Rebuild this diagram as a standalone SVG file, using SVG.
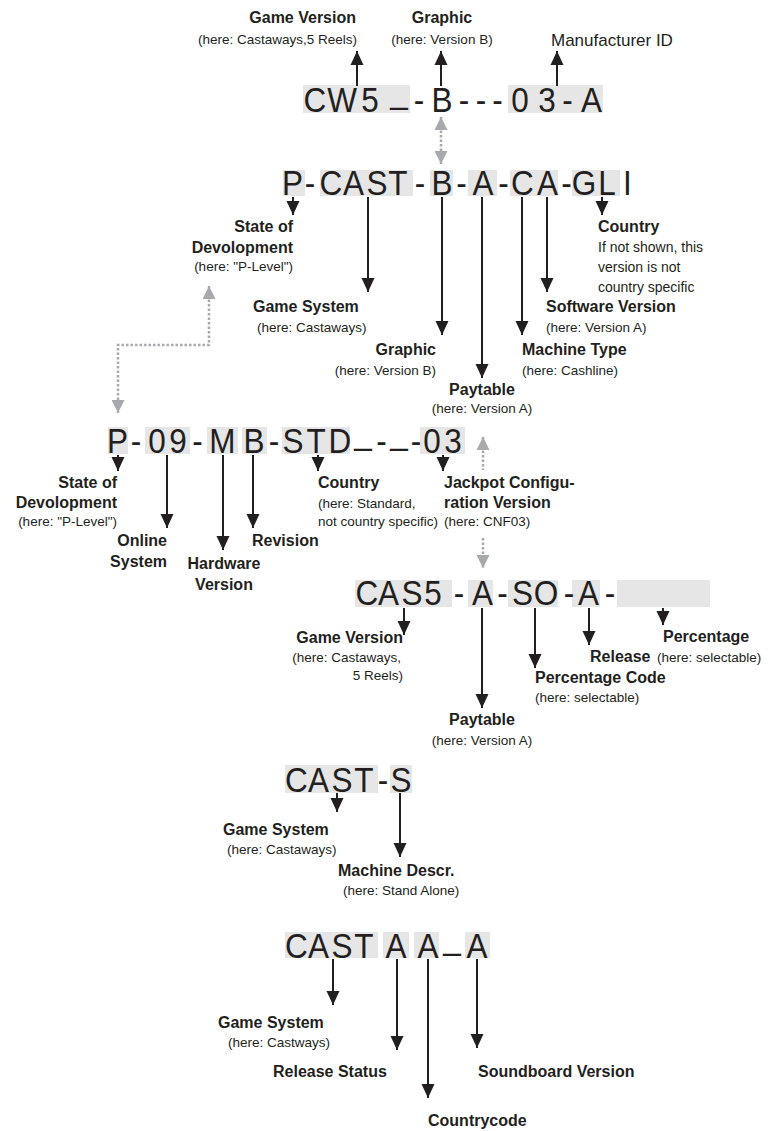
<svg xmlns="http://www.w3.org/2000/svg" width="770" height="1131" viewBox="0 0 770 1131">
<style>
.code{font-family:"Liberation Sans",Arial,sans-serif;font-size:35px;fill:#231f20;text-anchor:middle}
.b{font-family:"Liberation Sans",Arial,sans-serif;font-size:16px;font-weight:bold;fill:#231f20}
.r{font-family:"Liberation Sans",Arial,sans-serif;font-size:13.5px;fill:#231f20}
.m{text-anchor:middle}
.e{text-anchor:end}
.hl{fill:#e6e6e6}
.arr{stroke:#231f20;stroke-width:2;fill:none;marker-end:url(#ah)}
.dot{stroke:#a7a9ac;stroke-width:2.5;stroke-dasharray:2.5 2;fill:none}
</style>
<defs>
<marker id="ah" viewBox="0 0 14 14" refX="14" refY="7" markerWidth="14" markerHeight="14" markerUnits="userSpaceOnUse" orient="auto"><path d="M0,0.5 L14,7 L0,13.5 z" fill="#231f20"/></marker>
<marker id="gh" viewBox="0 0 13 13" refX="13" refY="6.5" markerWidth="13" markerHeight="13" markerUnits="userSpaceOnUse" orient="auto-start-reverse"><path d="M0,0 L13,6.5 L0,13 z" fill="#a7a9ac"/></marker>
</defs>
<rect width="770" height="1131" fill="#ffffff"/>

<g id="code1">
<rect class="hl" x="303" y="85" width="107" height="28"/>
<rect class="hl" x="508" y="85" width="95" height="28"/>
<text class="code" transform="scale(0.9,1)" x="350 380 411.11 443.33 465.56 491.11 515.56 534.44 552.78 577.78 607.78 630.56 657.22" y="112 112 112 103 112">CW5_-B---03-A</text>
</g>
<g id="lbl1-game-version">
<text class="b e" x="356" y="23">Game Version</text>
<text class="r e" x="357" y="44">(here: Castaways,5 Reels)</text>
</g>
<g id="lbl1-graphic">
<text class="b m" x="442" y="23">Graphic</text>
<text class="r m" x="442" y="44">(here: Version B)</text>
</g>
<g id="lbl1-manufacturer">
<text class="r" x="551" y="46" style="font-size:17px">Manufacturer ID</text>
</g>

<g id="code2">
<rect class="hl" x="283" y="170" width="22" height="26"/>
<rect class="hl" x="320" y="170" width="93" height="26"/>
<rect class="hl" x="430" y="170" width="23" height="26"/>
<rect class="hl" x="468" y="170" width="29" height="26"/>
<rect class="hl" x="510" y="170" width="48" height="26"/>
<rect class="hl" x="572" y="170" width="48" height="26"/>
<text class="code" transform="scale(0.9,1)" x="325 344.44 367.78 392.78 418.89 442.22 466.67 491.11 512.78 536.67 559.44 580.56 608.33 629.44 648.89 674.44 697.22" y="195">P-CAST-B-A-CA-GLI</text>
</g>
<g id="lbl2-state">
<text class="b e" x="293" y="232">State of</text>
<text class="b e" x="293" y="253">Devolopment</text>
<text class="r e" x="293" y="271">(here: "P-Level")</text>
</g>
<g id="lbl2-game-system">
<text class="b" x="253" y="312">Game System</text>
<text class="r" x="257" y="332">(here: Castaways)</text>
</g>
<g id="lbl2-graphic">
<text class="b e" x="436" y="355">Graphic</text>
<text class="r e" x="436" y="375">(here: Version B)</text>
</g>
<g id="lbl2-paytable">
<text class="b m" x="482" y="395">Paytable</text>
<text class="r m" x="482" y="413">(here: Version A)</text>
</g>
<g id="lbl2-machine-type">
<text class="b" x="522" y="355">Machine Type</text>
<text class="r" x="522" y="375">(here: Cashline)</text>
</g>
<g id="lbl2-software">
<text class="b" x="546" y="312">Software Version</text>
<text class="r" x="546" y="332">(here: Version A)</text>
</g>
<g id="lbl2-country">
<text class="b" x="598" y="232">Country</text>
<text class="r" x="598" y="252" style="font-size:14px">If not shown, this</text>
<text class="r" x="598" y="272" style="font-size:14px">version is not</text>
<text class="r" x="598" y="292" style="font-size:14px">country specific</text>
</g>

<g id="code3">
<rect class="hl" x="108" y="427" width="20" height="27"/>
<rect class="hl" x="145" y="427" width="45" height="27"/>
<rect class="hl" x="207" y="427" width="31" height="27"/>
<rect class="hl" x="242" y="427" width="25" height="27"/>
<rect class="hl" x="282" y="427" width="68" height="27"/>
<rect class="hl" x="420" y="427" width="45" height="27"/>
<text class="code" transform="scale(0.9,1)" x="130.56 151.11 174.44 197.78 219.44 247.22 282.22 304.44 325.56 351.11 377.78 403.33 423.89 443.33 462.22 480 503.33" y="453 453 453 453 453 453 453 453 453 453 453 444 453 444 453">P-09-MB-STD_-_-03</text>
</g>
<g id="lbl3-state">
<text class="b e" x="117" y="488">State of</text>
<text class="b e" x="117" y="508">Devolopment</text>
<text class="r e" x="117" y="526">(here: "P-Level")</text>
</g>
<g id="lbl3-online">
<text class="b e" x="167" y="546">Online</text>
<text class="b e" x="167" y="567">System</text>
</g>
<g id="lbl3-hardware">
<text class="b m" x="224" y="569">Hardware</text>
<text class="b m" x="224" y="590">Version</text>
</g>
<g id="lbl3-revision">
<text class="b" x="252" y="546">Revision</text>
</g>
<g id="lbl3-country">
<text class="b" x="318" y="488">Country</text>
<text class="r" x="318" y="508">(here: Standard,</text>
<text class="r" x="318" y="526">not country specific)</text>
</g>
<g id="lbl3-jackpot">
<text class="b" x="444" y="488">Jackpot Configu-</text>
<text class="b" x="444" y="508">ration Version</text>
<text class="r" x="444" y="526">(here: CNF03)</text>
</g>

<g id="code4">
<rect class="hl" x="355" y="580" width="97" height="27"/>
<rect class="hl" x="468" y="580" width="25" height="27"/>
<rect class="hl" x="508" y="580" width="50" height="27"/>
<rect class="hl" x="572" y="580" width="28" height="27"/>
<rect class="hl" x="617" y="580" width="93" height="27"/>
<text class="code" transform="scale(0.9,1)" x="407.78 431.67 457.78 481.11 510 536.11 558.33 580.56 606.67 632.22 653.89 677.78" y="605">CAS5-A-SO-A-</text>
</g>
<g id="lbl4-game-version">
<text class="b e" x="403" y="643">Game Version</text>
<text class="r e" x="401" y="662">(here: Castaways,</text>
<text class="r e" x="403" y="680">5 Reels)</text>
</g>
<g id="lbl4-paytable">
<text class="b m" x="482" y="725">Paytable</text>
<text class="r m" x="482" y="745">(here: Version A)</text>
</g>
<g id="lbl4-percentage-code">
<text class="b" x="535" y="683">Percentage Code</text>
<text class="r" x="535" y="702">(here: selectable)</text>
</g>
<g id="lbl4-release">
<text class="b" x="590" y="662">Release</text>
</g>
<g id="lbl4-percentage">
<text class="b" x="663" y="642">Percentage</text>
<text class="r" x="657" y="662">(here: selectable)</text>
</g>

<g id="code5">
<rect class="hl" x="285" y="765" width="93" height="28"/>
<rect class="hl" x="390" y="765" width="22" height="28"/>
<text class="code" transform="scale(0.9,1)" x="329.44 353.89 380 404.44 425.56 445.56" y="792">CAST-S</text>
</g>
<g id="lbl5-game-system">
<text class="b" x="223" y="835">Game System</text>
<text class="r" x="227" y="854">(here: Castaways)</text>
</g>
<g id="lbl5-machine">
<text class="b" x="338" y="876">Machine Descr.</text>
<text class="r" x="343" y="895">(here: Stand Alone)</text>
</g>

<g id="code6">
<rect class="hl" x="285" y="932" width="93" height="26"/>
<rect class="hl" x="383" y="932" width="26" height="26"/>
<rect class="hl" x="414" y="932" width="25" height="26"/>
<rect class="hl" x="465" y="932" width="25" height="26"/>
<text class="code" transform="scale(0.9,1)" x="329.44 353.89 380 404.44 440 475.56 502.22 530" y="958 958 958 958 958 958 949 958">CASTAA_A</text>
</g>
<g id="lbl6-game-system">
<text class="b" x="218" y="1028">Game System</text>
<text class="r" x="228" y="1047">(here: Castways)</text>
</g>
<g id="lbl6-release">
<text class="b" x="273" y="1077">Release Status</text>
</g>
<g id="lbl6-sound">
<text class="b" x="478" y="1077">Soundboard Version</text>
</g>
<g id="lbl6-country">
<text class="b" x="428" y="1126">Countrycode</text>
</g>

<g id="connectors">
<path class="arr" d="M357,86 V51"/>
<path class="arr" d="M441,86 V51"/>
<path class="arr" d="M557,86 V51"/>
<path class="dot" d="M441,117 V164" marker-start="url(#gh)" marker-end="url(#gh)"/>

<path class="arr" d="M293,197 V215"/>
<path class="arr" d="M368,197 V292"/>
<path class="arr" d="M442,197 V335"/>
<path class="arr" d="M482,197 V378"/>
<path class="arr" d="M522,197 V335"/>
<path class="arr" d="M547,197 V292"/>
<path class="arr" d="M602,197 V215"/>
<path class="dot" d="M209,286 V345 H118 V413" marker-start="url(#gh)" marker-end="url(#gh)"/>

<path class="arr" d="M118,455 V471"/>
<path class="arr" d="M167,455 V528"/>
<path class="arr" d="M223,455 V550"/>
<path class="arr" d="M253,455 V528"/>
<path class="arr" d="M318,455 V471"/>
<path class="arr" d="M443,455 V471"/>
<path class="dot" d="M483,437 V470" marker-start="url(#gh)"/>
<path class="dot" d="M483,538 V568" marker-end="url(#gh)"/>

<path class="arr" d="M404,608 V635"/>
<path class="arr" d="M482,608 V708"/>
<path class="arr" d="M535,608 V668"/>
<path class="arr" d="M589,608 V645"/>
<path class="arr" d="M663,608 V625"/>

<path class="arr" d="M337,793 V812"/>
<path class="arr" d="M400,793 V857"/>

<path class="arr" d="M333,959 V1005"/>
<path class="arr" d="M397,959 V1050"/>
<path class="arr" d="M428,959 V1098"/>
<path class="arr" d="M477,959 V1048"/>
</g>
</svg>
